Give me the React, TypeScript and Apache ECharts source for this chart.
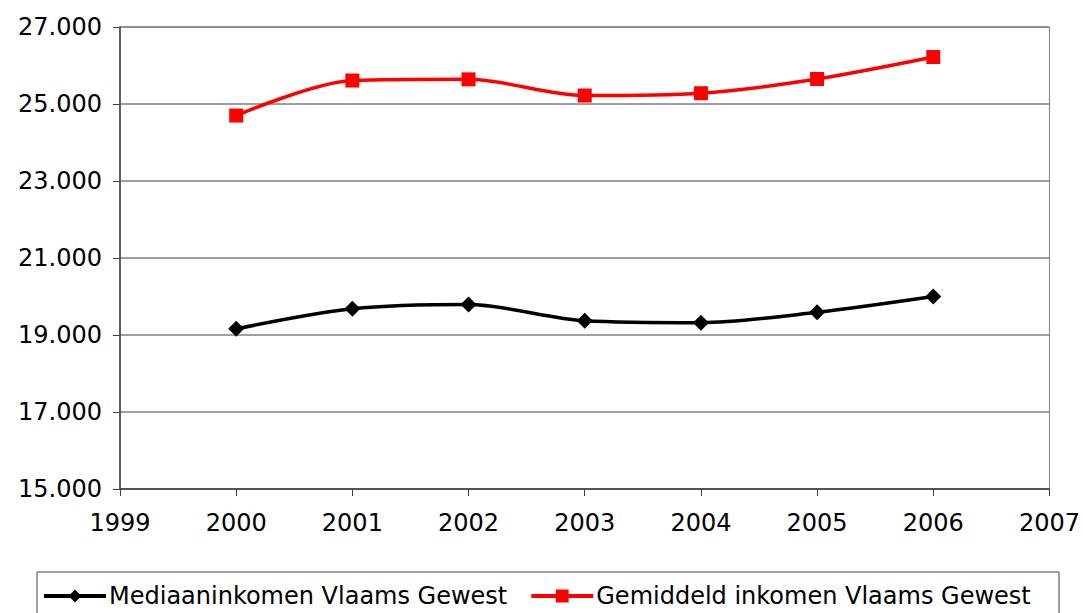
import React, { useEffect, useRef } from "react";
import * as echarts from "echarts";

const years = [2000, 2001, 2002, 2003, 2004, 2005, 2006];
const mediaan = [19160, 19680, 19790, 19370, 19320, 19590, 20000];
const gemiddeld = [24700, 25610, 25640, 25220, 25280, 25650, 26220];
const seriesNames = ["Mediaaninkomen Vlaams Gewest", "Gemiddeld inkomen Vlaams Gewest"];

const FONT = "DejaVu Sans";

export default function App() {
  const ref = useRef<HTMLDivElement>(null);
  useEffect(() => {
    if (!ref.current) return;
    const chart = echarts.init(ref.current, null, { renderer: "svg" });
    chart.setOption({
      animation: false,
      backgroundColor: "#ffffff",
      grid: {
        left: 120,
        right: 33,
        top: 27,
        bottom: 124,
        show: true,
        borderColor: "#808080",
        borderWidth: 1,
      },
      xAxis: {
        type: "value",
        min: 1999,
        max: 2007,
        interval: 1,
        axisLine: { show: true, lineStyle: { color: "#404040", width: 1.5 } },
        axisTick: { show: true, length: 7, lineStyle: { color: "#404040" } },
        axisLabel: {
          fontFamily: FONT,
          fontSize: 24,
          color: "#000",
          margin: 22,
          formatter: (v: number) => String(v),
        },
        splitLine: { show: false },
      },
      yAxis: {
        type: "value",
        min: 15000,
        max: 27000,
        interval: 2000,
        axisLine: { show: true, lineStyle: { color: "#404040", width: 1.5 } },
        axisTick: { show: true, length: 7, lineStyle: { color: "#404040" } },
        axisLabel: {
          fontFamily: FONT,
          fontSize: 24,
          color: "#000",
          margin: 18,
          formatter: (v: number) => {
            const t = Math.floor(v / 1000);
            return t + ".000";
          },
        },
        splitLine: { show: true, lineStyle: { color: "#808080", width: 1.5 } },
      },
      legend: {
        show: true,
        left: 42,
        top: 583,
        padding: 0,
        itemWidth: 62,
        itemHeight: 16,
        itemGap: 22,
        lineStyle: { width: 4 },
        textStyle: {
          fontFamily: FONT,
          fontSize: 24,
          lineHeight: 26,
          color: "#000",
          padding: [0, 0, 0, -2],
        },
        data: seriesNames,
      },
      graphic: [
        {
          type: "rect",
          shape: { x: 37, y: 572, width: 1022, height: 50 },
          style: { fill: "none", stroke: "#404040", lineWidth: 1 },
          silent: true,
        },
      ],
      series: [
        {
          name: seriesNames[0],
          type: "line",
          data: years.map((y, i) => [y, mediaan[i]]),
          smooth: 0.3,
          symbol: "diamond",
          symbolSize: 16,
          lineStyle: { color: "#000000", width: 3.5 },
          itemStyle: { color: "#000000" },
        },
        {
          name: seriesNames[1],
          type: "line",
          data: years.map((y, i) => [y, gemiddeld[i]]),
          smooth: 0.3,
          symbol: "rect",
          symbolSize: 14,
          lineStyle: { color: "#ff0000", width: 3.5 },
          itemStyle: { color: "#ff0000" },
        },
      ],
    });
    return () => chart.dispose();
  }, []);
  return (
    <div
      ref={ref}
      style={{ position: "fixed", left: 0, top: 0, width: 1083, height: 613 }}
    />
  );
}
